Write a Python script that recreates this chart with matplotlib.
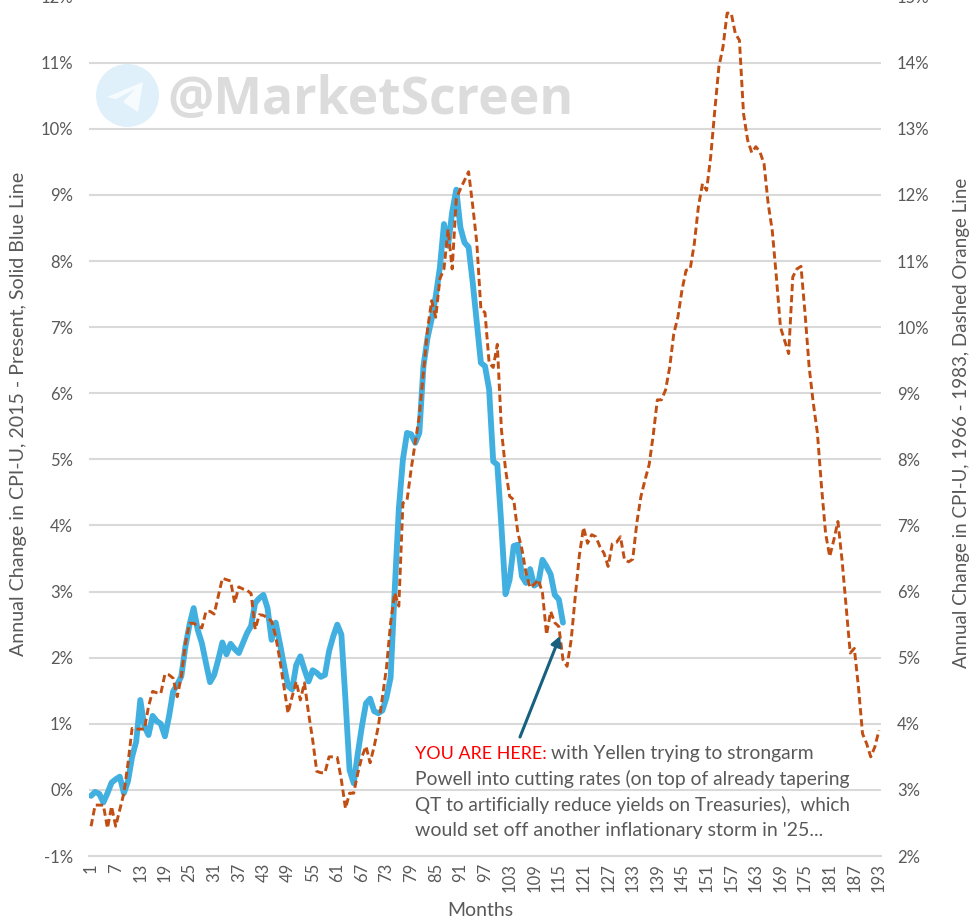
import matplotlib
matplotlib.use('Agg')
import matplotlib.pyplot as plt
from matplotlib.patches import Ellipse, Polygon

plt.rcParams['font.family'] = ['Lato', 'DejaVu Sans']

W, H = 976, 922

# annual change in CPI-U, 2015 - present (left axis)
blue = [-0.09, -0.03, -0.06, -0.19, -0.05, 0.11, 0.16, 0.2, -0.05, 0.13,
        0.5, 0.73, 1.36, 0.96, 0.83, 1.12, 1.04, 1.0, 0.81, 1.11,
        1.49, 1.59, 1.72, 2.17, 2.5, 2.75, 2.42, 2.22, 1.92, 1.63,
        1.74, 1.97, 2.23, 2.05, 2.21, 2.13, 2.07, 2.22, 2.37, 2.48,
        2.83, 2.9, 2.95, 2.75, 2.27, 2.53, 2.22, 1.89, 1.57, 1.52,
        1.89, 2.02, 1.82, 1.64, 1.81, 1.77, 1.71, 1.74, 2.1, 2.32,
        2.5, 2.35, 1.36, 0.3, 0.1, 0.55, 0.96, 1.31, 1.38, 1.19,
        1.16, 1.2, 1.4, 1.7, 3.03, 4.25, 5.0, 5.4, 5.38, 5.25,
        5.4, 6.41, 6.84, 7.12, 7.47, 7.9, 8.56, 8.23, 8.74, 9.08,
        8.51, 8.28, 8.21, 7.68, 7.07, 6.46, 6.41, 6.06, 4.97, 4.92,
        3.99, 2.96, 3.18, 3.69, 3.71, 3.23, 3.13, 3.34, 3.09, 3.13,
        3.48, 3.38, 3.26, 2.95, 2.88, 2.53]

# annual change in CPI-U, 1966 - 1983 (right axis)
orange = [2.45, 2.77, 2.77, 2.77, 2.42, 2.75, 2.45, 2.7, 2.95, 3.4,
          3.93, 3.92, 3.92, 3.92, 4.26, 4.49, 4.47, 4.46, 4.75, 4.74,
          4.69, 4.41, 4.72, 5.22, 5.52, 5.52, 5.48, 5.45, 5.7, 5.7,
          5.66, 5.93, 6.2, 6.18, 6.16, 5.83, 6.07, 6.04, 6.02, 5.97,
          5.43, 5.65, 5.64, 5.6, 5.55, 5.32, 4.97, 4.57, 4.16, 4.41,
          4.64, 4.36, 4.62, 4.16, 3.76, 3.28, 3.26, 3.26, 3.5, 3.5,
          3.49, 3.15, 2.72, 2.95, 2.95, 3.25, 3.5, 3.66, 3.41, 3.66,
          3.96, 4.4, 4.85, 5.53, 5.98, 5.78, 7.34, 7.38, 7.85, 8.25,
          8.66, 9.31, 9.97, 10.4, 10.15, 10.73, 10.88, 11.48, 10.88, 11.94,
          12.09, 12.22, 12.35, 11.84, 11.28, 10.27, 10.22, 9.46, 9.39, 9.74,
          8.45, 7.85, 7.44, 7.39, 6.89, 6.64, 6.28, 6.06, 6.11, 6.18,
          5.98, 5.35, 5.7, 5.53, 5.47, 4.97, 4.87, 5.27, 5.93, 6.55,
          6.97, 6.73, 6.86, 6.83, 6.68, 6.58, 6.38, 6.72, 6.74, 6.83,
          6.48, 6.45, 6.49, 7.04, 7.44, 7.69, 7.92, 8.37, 8.9, 8.9,
          9.05, 9.39, 9.9, 10.15, 10.56, 10.86, 10.88, 11.26, 11.82, 12.17,
          12.07, 12.58, 13.28, 13.94, 14.24, 14.75, 14.75, 14.44, 14.34, 13.23,
          12.83, 12.64, 12.73, 12.65, 12.47, 11.87, 11.46, 10.76, 10.0, 9.8,
          9.6, 10.76, 10.88, 10.92, 10.2, 9.39, 8.85, 8.4, 7.59, 6.88,
          6.53, 6.78, 7.06, 6.48, 5.77, 5.07, 5.14, 4.56, 3.85, 3.7, 3.5, 3.65, 3.9]

months_blue = list(range(1, len(blue) + 1))
months_orange = list(range(1, len(orange) + 1))
month_ticks = list(range(1, 194, 6))
left_ticks = list(range(-1, 13))
right_ticks = list(range(2, 16))
note_lines = ['Powell into cutting rates (on top of already tapering',
              'QT to artificially reduce yields on Treasuries),  which',
              "would set off another inflationary storm in '25..."]

GREY = '#595959'
GRID = '#d9d9d9'

fig = plt.figure(figsize=(W / 100, H / 100), dpi=100)


def fx(px):
    return px / W


def fy(py):
    return 1 - py / H


# the top of the plot is cut off by the image edge, same as the screenshot
ax = fig.add_axes([fx(89), fy(856), fx(881) - fx(89), fy(-3.4) - fy(856)])
ax.set_xlim(0.5, 193.5)
ax.set_ylim(-1, 12)
ax.set_yticks(left_ticks)
ax.set_yticklabels([f'{t}%' for t in left_ticks])
ax.set_xticks(month_ticks)
ax.set_xticklabels(month_ticks, rotation=90)
ax.grid(axis='y', color=GRID, lw=1.5)
ax.set_axisbelow(True)
ax.tick_params(axis='y', length=0, pad=11.5, labelsize=12, labelcolor=GREY)
ax.tick_params(axis='x', length=0, pad=5, labelsize=12, labelcolor=GREY)
for s in ['top', 'left', 'right']:
    ax.spines[s].set_visible(False)
ax.spines['bottom'].set_color(GRID)
ax.spines['bottom'].set_linewidth(1.5)

# watermark sits behind the lines
fig.patches.append(Ellipse((fx(127.5), fy(95.5)), 63 / W, 63 / H, transform=fig.transFigure,
                           facecolor='#dff0fa', edgecolor='none', zorder=0.5))
plane = [(107, 97), (143, 82), (138, 112), (123, 102), (135, 89), (116, 99)]
fig.patches.append(Polygon([(fx(x), fy(y)) for x, y in plane], transform=fig.transFigure,
                           facecolor='#f6fbfe', edgecolor='none', zorder=0.6))
fig.text(fx(167), fy(100), '@MarketScreen', fontsize=37.2, fontweight='bold', color='#dcdcdc',
         family='Open Sans', va='center', ha='left', zorder=0.7)
ax.patch.set_alpha(0)

ax.plot(months_blue, blue, color='#41b0e0', lw=4.2, solid_joinstyle='round', solid_capstyle='round')

ax2 = ax.twinx()
ax2.set_ylim(2, 15)
ax2.set_yticks(right_ticks)
ax2.set_yticklabels([f'{t}%' for t in right_ticks])
ax2.tick_params(axis='y', length=0, pad=11.5, labelsize=12, labelcolor=GREY)
for s in ax2.spines.values():
    s.set_visible(False)
ax2.plot(months_orange, orange, color='#c14f14', lw=2.1, dashes=(2.5, 1.3))

fig.text(fx(19), fy(414), 'Annual Change in CPI-U, 2015 - Present, Solid Blue Line', rotation=90,
         fontsize=14.1, color=GREY, ha='center', va='center')
fig.text(fx(961), fy(423), 'Annual Change in CPI-U, 1966 - 1983, Dashed Orange Line', rotation=90,
         fontsize=13.5, color=GREY, ha='center', va='center')
fig.text(fx(480), fy(910), 'Months', fontsize=14, color=GREY, ha='center', va='center')

# annotation
fig.text(fx(415), fy(753.5), 'YOU ARE HERE:', fontsize=12.9, color='#ff0000', ha='left', va='center')
fig.text(fx(551), fy(753.5), 'with Yellen trying to strongarm', fontsize=13.85, color=GREY, ha='left', va='center')
for line, py, size in zip(note_lines, [778.5, 805, 830], [13.85, 13.65, 14]):
    fig.text(fx(415), fy(py), line, fontsize=size, color=GREY, ha='left', va='center')

ax2.annotate('', xy=(fx(560), fy(636)), xytext=(fx(520), fy(737)), xycoords='figure fraction',
             textcoords='figure fraction',
             arrowprops=dict(arrowstyle='-|>,head_length=0.55,head_width=0.3', color='#17607f', lw=2.2,
                             shrinkA=0, shrinkB=0))

fig.savefig('out.png', dpi=100)
